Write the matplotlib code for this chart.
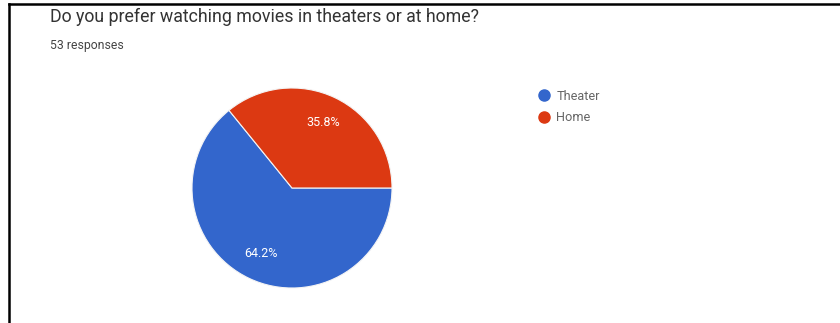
import matplotlib.pyplot as plt
from matplotlib.lines import Line2D

plt.rcParams['font.family'] = ['Roboto', 'DejaVu Sans']

title = "Do you prefer watching movies in theaters or at home?"
labels = ["Theater", "Home"]
counts = [34, 19]
colors = ["#3366cc", "#dc3912"]
total = sum(counts)

fig = plt.figure(figsize=(8.4, 3.23), dpi=100)
W, H = 840, 323

# pie sits in a square box, 200 px across
ax = fig.add_axes([192 / W, (H - 288) / H, 200 / W, 200 / H])
start = 360 * counts[1] / total
wedges, texts, autotexts = ax.pie(
    counts, colors=colors, startangle=start, counterclock=True,
    autopct='%1.1f%%', pctdistance=0.72,
    wedgeprops=dict(edgecolor='#f4f4f4', linewidth=0.8),
    textprops=dict(color='white', fontsize=9))
ax.set_xlim(-1, 1)
ax.set_ylim(-1, 1)
ax.set_aspect('equal')

fig.text(50 / W, 1 - 17 / H, title, fontsize=12.8, color='#333333', va='center')
fig.text(50 / W, 1 - 45 / H, f"{total} responses", fontsize=8.8, color='#444444', va='center')

handles = [Line2D([], [], marker='o', linestyle='', markersize=8,
                  markerfacecolor=c, markeredgecolor=c) for c in colors]
fig.legend(handles, labels, loc='upper left', bbox_to_anchor=(525 / W, 1 - 78 / H),
           frameon=False, fontsize=9.2, labelcolor='#666666',
           handletextpad=0.35, labelspacing=0.7, handlelength=1.2)

# black frame along the top and left edges
fig.add_artist(Line2D([9 / W, 1], [1 - 4 / H, 1 - 4 / H], color='black', linewidth=1.8,
                      transform=fig.transFigure))
fig.add_artist(Line2D([9 / W, 9 / W], [0, 1 - 4 / H], color='black', linewidth=1.8,
                      transform=fig.transFigure))

fig.savefig('out.png', dpi=100)
